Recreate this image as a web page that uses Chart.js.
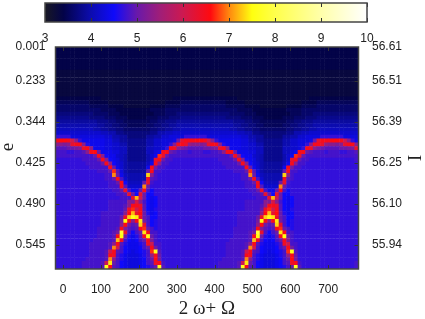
<!DOCTYPE html>
<html>
<head>
<meta charset="utf-8">
<style>
  html, body { margin: 0; background: #fff; }
  #wrap { position: relative; width: 425px; height: 319px; overflow: hidden; }
  canvas { position: absolute; left: 0; top: 0; }
</style>
<script src="https://cdn.jsdelivr.net/npm/chart.js@4"></script>
</head>
<body>
<div id="wrap">
  <canvas id="heat" width="425" height="319"></canvas>
  <canvas id="bar" width="425" height="47"></canvas>
</div>
<script>
const xTicks = [0, 100, 200, 300, 400, 500, 600, 700];
const rowTicks = [0, 8.9, 19.6, 30.2, 40.9, 51.6];
const eLabels = ['0.001', '0.233', '0.344', '0.425', '0.490', '0.545'];
const iLabels = ['56.61', '56.51', '56.39', '56.25', '56.10', '55.94'];
const barTicks = [3, 4, 5, 6, 7, 8, 9, 10];
const stopValues = [3, 3.4, 4, 4.5, 5, 5.5, 6, 6.6, 7, 7.5, 8, 9, 10];
const stopColors = [[24,24,36],[3,3,72],[12,12,175],[15,10,250],[105,25,170],[160,30,120],[205,25,80],[255,10,15],[255,135,15],[255,255,15],[255,255,75],[255,255,170],[255,255,255]];

// one character per cell, left to right: 0-9a-zA-Z = 3.0, 3.1, 3.2 ...
const codes = '0123456789abcdefghijklmnopqrstuvwxyzABCDEFGHIJKLMNOPQRSTUVWXYZ';
const heatRows = [
'44444444444444444444444444444444444444444444444444444444444444444444444444444444',
'44444444444444444444444444444444444444444444444444444444444444444444444444444444',
'44444444444444444444444444444444444444444444444444444444444444444444444444444444',
'44444444444444444444444444444444444444444444444444444444444444444444444444444444',
'44444444444444444444444444444444444444444444444444444444444444444444444444444444',
'44444444444444444444444444444444444444444444444444444444444444444444444444444444',
'33333333333333333333333333333333333333333333333333333333333333333333333333333333',
'33333333333333333333333333333333333333333333333333333333333333333333333333333333',
'33333333333333333333333333333333333333333333333333333333333333333333333333333333',
'33333333333333333333333333333333333333333333333333333333333333333333333333333333',
'33333333333333333333333333333333333333333333333333333333333333333333333333333333',
'33333333333333333333333333333333333333333333333333333333333333333333333333333333',
'33333333333333333333333333333333333333333333333333333333333333333333333333333333',
'444444444444333333333333333333344444' + '444444444444333333333333333333344444' + '44444444',
'555555555444443333333333333334444555' + '555555555444443333333333333334444555' + '55555555',
'666666666555554444333333344445555666' + '666666666555554444333333344445555666' + '66666666',
'666666666666555544444444455556666666' + '666666666666555544444444455556666666' + '66666666',
'777777777766665554444444445556667777' + '777777777766665554444444445556667777' + '77777777',
'888888888777766655544444555666777888' + '888888888777766655544444555666777888' + '88888888',
'999999999998887766555555566778889999' + '999999999998887766555555566778889999' + '99999999',
'aaaaaaaaaaa998877665555566778899aaaa' + 'aaaaaaaaaaa998877665555566778899aaaa' + 'aaaaaaaa',
'bbbbbbbbbbaa9988776666666778899aabbb' + 'bbbbbbbbbbaa9988776666666778899aabbb' + 'bbbbbbbb',
'ccccccccccccbbaa88777777788aabbccccc' + 'ccccccccccccbbaa88777777788aabbccccc' + 'cccccccc',
'hhhhdddddddddccaa997777799aaccddddhh' + 'hhhhdddddddddccaa997777799aaccddddhh' + 'hhhhdddd',
'zAAzunheeeeeeddbb9988888aaccdddekxzz' + 'zAAzunheeeeeeddbb9988888aaccdddekxzz' + 'zAAzunhe',
'nnmnxzzngeeeeddccaa88888aaccddhnzzxo' + 'nnmnxzzngeeeeddccaa88888aaccddhnzzxo' + 'nnmnxzzn',
'jjjkklmyzneeeddccbb88888bbccdhzynlkj' + 'jjjkklmyzneeeddccbb88888bbccdhzynlkj' + 'jjjkklmy',
'iiihhiijnzAkeeeddbb88888bbdezzkjiiih' + 'iiihhiijnzAkeeeddbb88888bbdezzkjiiih' + 'iiihhiij',
'iiiiiiiiiikznfeecba88888aceBxkiiiiii' + 'iiiiiiiiiikznfeecba88888aceBxkiiiiii' + 'iiiiiiii',
'hhhhhhhiiiikznfedba88888acxzkiihhhhh' + 'hhhhhhhiiiikznfedba88888acxzkiihhhhh' + 'hhhhhhhi',
'hhhhhhhhiiiikznfdca99999bezniihhhhhh' + 'hhhhhhhhiiiikznfdca99999bezniihhhhhh' + 'hhhhhhhh',
'hhhhhhhhhiiiiizkeca99999ezliihhhhhhh' + 'hhhhhhhhhiiiiizkeca99999ezliihhhhhhh' + 'hhhhhhhh',
'hhhhhhhhhhhiiikBjda99999kziihhhhhhhh' + 'hhhhhhhhhhhiiikBjda99999kziihhhhhhhh' + 'hhhhhhhh',
'hhhhhhhhhhhhhiiEkebaaaaaHnihhhhhhhhh' + 'hhhhhhhhhhhhhiiEkebaaaaaHnihhhhhhhhh' + 'hhhhhhhh',
'hhhhhhhhhhhhhiikzicaaaaayjihhhhhhhhh' + 'hhhhhhhhhhhhhiikzicaaaaayjihhhhhhhhh' + 'hhhhhhhh',
'hhhhhhhhhhhhhhiikzfbbbbkxihhhhhhhhhh' + 'hhhhhhhhhhhhhhiikzfbbbbkxihhhhhhhhhh' + 'hhhhhhhh',
'hhhhhhhhhhhhhhiiizjccccEkhhhhhhhhhhh' + 'hhhhhhhhhhhhhhiiizjccccEkhhhhhhhhhhh' + 'hhhhhhhh',
'hhhhhhhhhhhhhhhiikyieekzifhhhhhhhhhh' + 'hhhhhhhhhhhhhhhiikyieekzifhhhhhhhhhh' + 'hhhhhhhh',
'hhhhhhhhhhhhhhhhiijxkfxkffhhhhhhhhhh' + 'hhhhhhhhhhhhhhhhiijxkfxkffhhhhhhhhhh' + 'hhhhhhhh',
'hhhhhhhhhhhhhhhhhiiixGukfefhhhhhhhhh' + 'hhhhhhhhhhhhhhhhhiiixGukfefhhhhhhhhh' + 'hhhhhhhh',
'hhhhhhhhhhhhhhiiiiinmvnifefhhhhhhhhh' + 'hhhhhhhhhhhhhhiiiiinmvnifefhhhhhhhhh' + 'hhhhhhhh',
'hhhhhhhhhhhhhhiiiijnzzxjfefhhhhhhhhh' + 'hhhhhhhhhhhhhhiiiijnzzxjfefhhhhhhhhh' + 'hhhhhhhh',
'hhhhhhhhhhhhhhiiiikyBuzjfeghhhhhhhhh' + 'hhhhhhhhhhhhhhiiiikyBuzjfeghhhhhhhhh' + 'hhhhhhhh',
'hhhhhhhhhhhhiiiiiinAGxAkgefhhhhhhhhh' + 'hhhhhhhhhhhhiiiiiinAGxAkgefhhhhhhhhh' + 'hhhhhhhh',
'hhhhhhhhhhhhiiiiikyHJIykiffhhhhhhhhh' + 'hhhhhhhhhhhhiiiiikyHJIykiffhhhhhhhhh' + 'hhhhhhhh',
'hhhhhhhhhhhhiiiiilJznzIlifghhhhhhhhh' + 'hhhhhhhhhhhhiiiiilJznzIlifghhhhhhhhh' + 'hhhhhhhh',
'hhhhhhhhhhhhiiiiinAljkHxifghhhhhhhhh' + 'hhhhhhhhhhhhiiiiinAljkHxifghhhhhhhhh' + 'hhhhhhhh',
'hhhhhhhhhhhiiiiijzmjijzBkighhhhhhhhh' + 'hhhhhhhhhhhiiiiijzmjijzBkighhhhhhhhh' + 'hhhhhhhh',
'hhhhhhhhhhhiiiijlMxifikIziihhhhhhhhh' + 'hhhhhhhhhhhiiiijlMxifikIziihhhhhhhhh' + 'hhhhhhhh',
'hhhhhhhhhhhiiiijzJlgegjzJkihhhhhhhhh' + 'hhhhhhhhhhhiiiijzJlgegjzJkihhhhhhhhh' + 'hhhhhhhh',
'hhhhhhhhhhiiiiijGyifefikzmihhhhhhhhh' + 'hhhhhhhhhhiiiiijGyifefikzmihhhhhhhhh' + 'hhhhhhhh',
'hhhhhhhhhiiiiijnzjgeeegiyuiihhhhhhhh' + 'hhhhhhhhhiiiiijnzjgeeegiyuiihhhhhhhh' + 'hhhhhhhh',
'hhhhhhhhhiiiiijEuifeeefikzlihhhhhhhh' + 'hhhhhhhhhiiiiijEuifeeefikzlihhhhhhhh' + 'hhhhhhhh',
'hhhhhhhhhiiiijuzjifedefgiBKjhhhhhhhh' + 'hhhhhhhhhiiiijuzjifedefgiBKjhhhhhhhh' + 'hhhhhhhh',
'hhhhhhhhhiiiijzyigedddegiozkhhhhhhhh' + 'hhhhhhhhhiiiijzyigedddegiozkhhhhhhhh' + 'hhhhhhhh',
'hhhhhhhhiiiiijEnigedddefikAlhhhhhhhh' + 'hhhhhhhhiiiiijEnigedddefikAlhhhhhhhh' + 'hhhhhhhh',
'hhhhhhhiiiiijuIkifedddefijyzihhhhhhh' + 'hhhhhhhiiiiijuIkifedddefijyzihhhhhhh' + 'hhhhhhhi',
'hhhhhhhiiiiijKzjifedddefgikKjhhhhhhh' + 'hhhhhhhiiiiijKzjifedddefgikKjhhhhhhh' + 'hhhhhhhi'
];
const colStart = -20, colStep = 10;

function colorFor(v) {
    let i = 0;
    while (i < stopValues.length - 2 && v > stopValues[i + 1]) i++;
    const t = (v - stopValues[i]) / (stopValues[i + 1] - stopValues[i]);
    const c = stopColors[i].map((a, k) => Math.round(a + (stopColors[i + 1][k] - a) * t));
    return `rgb(${c[0]},${c[1]},${c[2]})`;
}

const cells = [];
heatRows.forEach((row, r) => {
    for (let c = 0; c < 80 && c < row.length; c++) {
        cells.push({ x: colStart + (c + 0.5) * colStep, y: r + 0.5, v: 3 + codes.indexOf(row[c]) * 0.1 });
    }
});

// frame and inward tick marks, like gnuplot draws them
const frameTicks = {
    id: 'frameTicks',
    afterDraw(chart) {
        const { ctx, chartArea: a, scales } = chart;
        ctx.save();
        ctx.strokeStyle = '#333';
        ctx.lineWidth = 1;
        ctx.beginPath();
        scales.x.ticks.forEach(t => {
            const px = Math.round(scales.x.getPixelForValue(t.value)) + 0.5;
            ctx.moveTo(px, a.top); ctx.lineTo(px, a.top + 4);
            ctx.moveTo(px, a.bottom); ctx.lineTo(px, a.bottom - 4);
        });
        if (scales.yRight) {
            scales.y.ticks.forEach(t => {
                if (t.value === 0) return;
                const py = Math.round(scales.y.getPixelForValue(t.value)) + 0.5;
                ctx.moveTo(a.left, py); ctx.lineTo(a.left + 4, py);
                ctx.moveTo(a.right, py); ctx.lineTo(a.right - 4, py);
            });
        }
        ctx.stroke();
        ctx.lineWidth = 1.5;
        ctx.strokeStyle = '#444';
        ctx.strokeRect(a.left, a.top, a.right - a.left, a.bottom - a.top);
        if (scales.yRight) {
            // the e sits above the middle of the axis in the original
            ctx.translate(8, 147);
            ctx.rotate(-Math.PI / 2);
            ctx.font = titleFont.size + 'px ' + titleFont.family;
            ctx.fillStyle = '#222';
            ctx.textAlign = 'center';
            ctx.textBaseline = 'middle';
            ctx.fillText('e', 0, 0);
        }
        ctx.restore();
    }
};

const tickFont = { family: '"Liberation Sans", Arial, sans-serif', size: 12 };
const titleFont = { family: '"Liberation Serif", "Times New Roman", serif', size: 19, lineHeight: 1 };
const noGrid = { display: false, drawTicks: false };

new Chart(document.getElementById('heat'), {
    type: 'scatter',
    data: {
        datasets: [{
            data: cells,
            clip: 0,
            pointStyle: 'rect',
            pointRadius: 3.05,
            pointBorderWidth: 0,
            pointBackgroundColor: ctx => colorFor(ctx.raw.v)
        }]
    },
    options: {
        responsive: false,
        animation: false,
        events: [],
        layout: { padding: { top: 47 } },
        plugins: { legend: { display: false }, tooltip: { enabled: false } },
        scales: {
            x: {
                type: 'linear', min: -20, max: 780,
                afterBuildTicks: s => { s.ticks = xTicks.map(v => ({ value: v })); },
                afterFit: s => { s.height = 50; },
                grid: noGrid, border: { display: false },
                ticks: { font: tickFont, color: '#222', padding: 13, maxRotation: 0, autoSkip: false, callback: v => String(v) },
                title: { display: true, text: '2 ω+ Ω', font: titleFont, color: '#222', padding: { top: 2, bottom: 0 } }
            },
            y: {
                type: 'linear', reverse: true, min: 0, max: heatRows.length,
                afterBuildTicks: s => { s.ticks = rowTicks.map(v => ({ value: v })); },
                afterFit: s => { s.width = 55.5; },
                grid: noGrid, border: { display: false },
                ticks: { font: tickFont, color: '#222', padding: 10, autoSkip: false, callback: v => eLabels[rowTicks.indexOf(v)] }
            },
            yRight: {
                type: 'linear', position: 'right', reverse: true, min: 0, max: heatRows.length,
                afterBuildTicks: s => { s.ticks = rowTicks.map(v => ({ value: v })); },
                afterFit: s => { s.width = 66.5; },
                grid: noGrid, border: { display: false },
                ticks: { font: tickFont, color: '#222', padding: 13.5, autoSkip: false, callback: v => iLabels[rowTicks.indexOf(v)] },
                title: { display: true, text: 'I', font: titleFont, color: '#222', padding: 3 }
            }
        }
    },
    plugins: [frameTicks]
});

new Chart(document.getElementById('bar'), {
    type: 'line',
    data: {
        datasets: [{
            data: [{ x: barTicks[0], y: 0.5 }, { x: barTicks[barTicks.length - 1], y: 0.5 }],
            pointRadius: 0,
            borderWidth: 19,
            borderCapStyle: 'butt',
            clip: false,
            borderColor: ctx => {
                const a = ctx.chart.chartArea;
                if (!a) return '#000';
                const g = ctx.chart.ctx.createLinearGradient(a.left, 0, a.right, 0);
                stopValues.forEach(v => g.addColorStop((v - 3) / 7, colorFor(v)));
                return g;
            }
        }]
    },
    options: {
        responsive: false,
        animation: false,
        events: [],
        layout: { padding: { left: 45, right: 58, top: 3 } },
        plugins: { legend: { display: false }, tooltip: { enabled: false } },
        scales: {
            x: {
                type: 'linear', min: 3, max: 10,
                afterBuildTicks: s => { s.ticks = barTicks.map(v => ({ value: v })); },
                afterFit: s => { s.height = 25; },
                grid: noGrid, border: { display: false },
                ticks: { font: tickFont, color: '#222', padding: 9, maxRotation: 0, autoSkip: false, callback: v => String(v) }
            },
            y: { min: 0, max: 1, display: false }
        }
    },
    plugins: [frameTicks]
});
</script>
</body>
</html>
